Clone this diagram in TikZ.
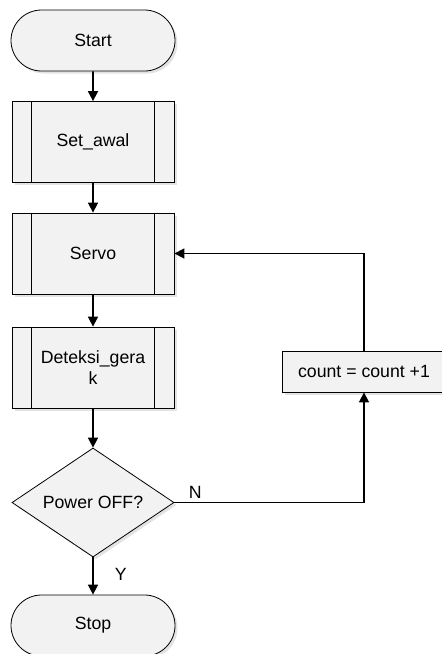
\documentclass[tikz,border=0pt]{standalone}
\usepackage{fontspec}
\setmainfont{Liberation Sans}
\usetikzlibrary{shapes.misc,shapes.geometric,arrows.meta,shadows}
\tikzset{
  base/.style={draw=black, line width=0.8pt, fill=black!5, font=\fontsize{17.7}{21}\selectfont, align=center, inner sep=0pt,
    drop shadow={shadow xshift=2.5pt, shadow yshift=-2.5pt, fill=black!18, opacity=0.6}},
  term/.style={base, rounded rectangle, minimum width=164pt, minimum height=61pt},
  proc/.style={base, rectangle, minimum width=162pt, minimum height=81pt},
  plain/.style={base, rectangle, minimum width=164pt, minimum height=41pt},
  dec/.style={base, diamond, minimum width=162pt, minimum height=109pt, aspect=1.486},
  conn/.style={line width=1.6pt, -{Triangle[length=10pt,width=10pt]}},
  lbl/.style={font=\fontsize{17.7}{21}\selectfont, inner sep=0pt},
}
\newcommand{\subbars}[1]{%
  \draw[line width=0.8pt] ([xshift=20pt]#1.north west) -- ([xshift=20pt]#1.south west);
  \draw[line width=0.8pt] ([xshift=-20pt]#1.north east) -- ([xshift=-20pt]#1.south east);}
\begin{document}
\begin{tikzpicture}[x=1pt,y=-1pt]
\useasboundingbox (0,0) rectangle (442,654);
\fill[white] (0,0) rectangle (442,654);
\node[term] (start) at (93,40.5) {Start};
\node[proc] (set) at (93,142) {Set\_awal};
\subbars{set}
\node[proc] (servo) at (93,253.5) {Servo};
\subbars{servo}
\node[proc] (det) at (93,367.5) {Deteksi\_gera\\k};
\subbars{det}
\node[dec] (dec) at (93,502.5) {Power OFF?};
\node[term] (stop) at (93,625.5) {Stop};
\node[plain] (cnt) at (364,371.5) {count = count +1};

\draw[conn] (start) -- (set);
\draw[conn] (set) -- (servo);
\draw[conn] (servo) -- (det);
\draw[conn] (det) -- (dec);
\draw[conn] (dec) -- (stop) node[lbl, pos=0.45, right=21pt] {Y};
\draw[conn] (dec.east) -| (cnt.south) node[lbl, pos=0.055, above=3pt] {N};
\draw[conn] (cnt.north) |- (servo.east);
\end{tikzpicture}
\end{document}
